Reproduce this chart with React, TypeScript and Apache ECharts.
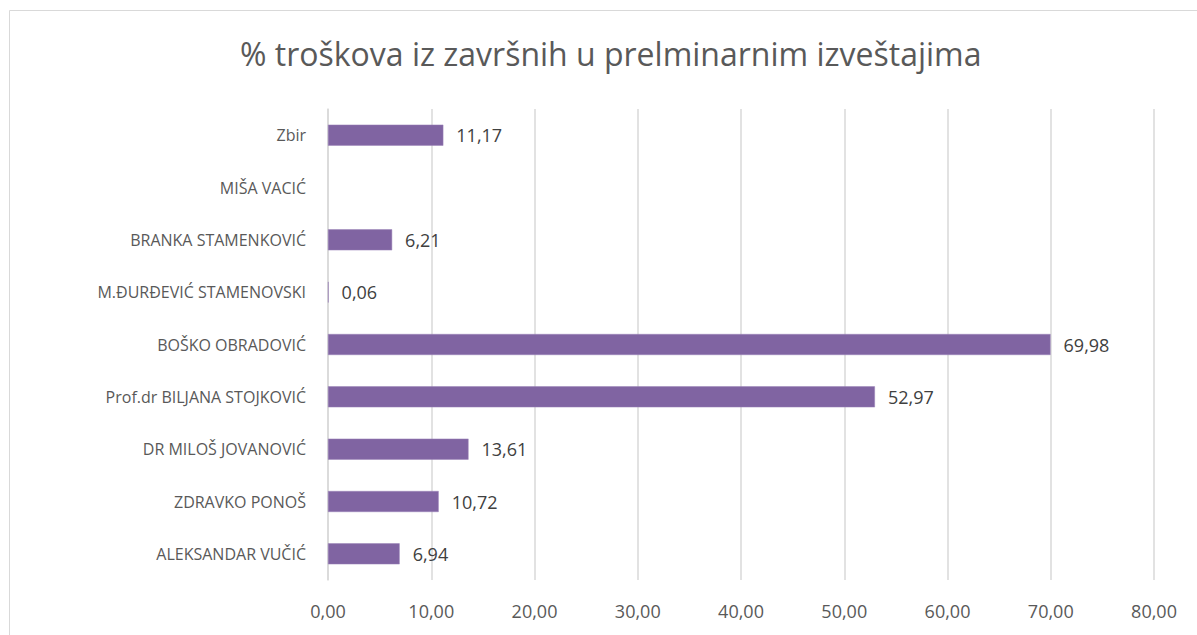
import React, { useEffect, useRef } from "react";
import * as echarts from "echarts";

const categories = [
  "ALEKSANDAR VUČIĆ",
  "ZDRAVKO PONOŠ",
  "DR MILOŠ JOVANOVIĆ",
  "Prof.dr BILJANA STOJKOVIĆ",
  "BOŠKO OBRADOVIĆ",
  "M.ĐURĐEVIĆ STAMENOVSKI",
  "BRANKA STAMENKOVIĆ",
  "MIŠA VACIĆ",
  "Zbir",
];
const values: (number | null)[] = [6.94, 10.72, 13.61, 52.97, 69.98, 0.06, 6.21, null, 11.17];
const titleText = "% troškova iz završnih u prelminarnim izveštajima";

const fmt = (v: number) => v.toFixed(2).replace(".", ",");

export default function App() {
  const ref = useRef<HTMLDivElement>(null);
  useEffect(() => {
    const chart = echarts.init(ref.current!, null, { renderer: "svg" });
    const font = "'Open Sans', 'Noto Sans', sans-serif";
    chart.setOption({
      animation: false,
      backgroundColor: "#ffffff",
      textStyle: { fontFamily: font },
      title: {
        text: titleText,
        left: 235,
        top: 32,
        textStyle: { fontFamily: font, fontSize: 32, fontWeight: "normal", color: "#595959" },
      },
      graphic: [
        {
          type: "rect",
          shape: { x: 9.5, y: 10.5, width: 1300, height: 800 },
          style: { fill: "none", stroke: "#d9d9d9", lineWidth: 1 },
          silent: true,
        },
      ],
      grid: { left: 328, right: 43, top: 109, bottom: 55, containLabel: false },
      xAxis: {
        type: "value",
        min: 0,
        max: 80,
        interval: 10,
        axisLine: { show: false },
        axisTick: { show: false },
        splitLine: { show: true, lineStyle: { color: "#d9d9d9", width: 1.5 } },
        axisLabel: {
          formatter: (v: number) => fmt(v),
          color: "#595959",
          fontSize: 18,
          fontFamily: font,
          margin: 22,
        },
      },
      yAxis: {
        type: "category",
        data: categories,
        axisLine: { show: true, lineStyle: { color: "#d9d9d9", width: 1.5 } },
        axisTick: { show: false },
        axisLabel: { color: "#595959", fontSize: 16, fontFamily: font, margin: 22 },
      },
      series: [
        {
          type: "bar",
          data: values.map((v) => (v === null ? "-" : v)),
          barWidth: 21,
          itemStyle: { color: "#8064a2", borderColor: "#9a83b8", borderWidth: 0.5 },
          label: {
            show: true,
            position: "right",
            distance: 13,
            color: "#404040",
            fontSize: 18,
            fontFamily: font,
            formatter: (p: any) => (typeof p.value === "number" ? fmt(p.value) : ""),
          },
        },
      ],
    });
    return () => chart.dispose();
  }, []);
  return (
    <div
      ref={ref}
      style={{ position: "absolute", left: 0, top: 0, width: 1197, height: 635 }}
    />
  );
}
